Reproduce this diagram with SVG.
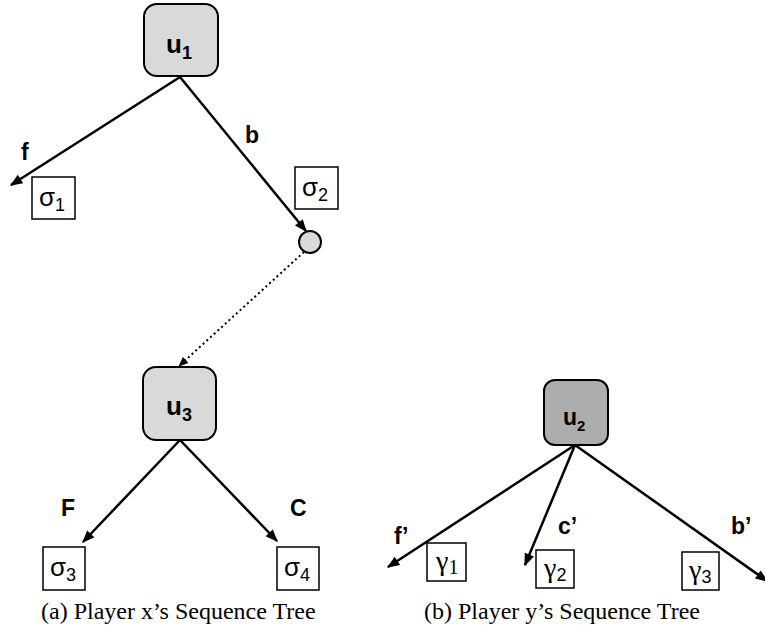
<svg xmlns="http://www.w3.org/2000/svg" width="765" height="639" viewBox="0 0 765 639">
  <style>
    .node { fill: #d9d9d9; stroke: #000; stroke-width: 2; }
    .node-dark { fill: #adadad; stroke: #000; stroke-width: 2; }
    .nlabel { font-family: "Liberation Sans", Arial, sans-serif; font-weight: bold; font-size: 26px; fill: #000; }
    .sub { font-size: 18px; }
    .edge { stroke: #000; stroke-width: 2.5; fill: none; }
    .dotted { stroke: #000; stroke-width: 2; stroke-dasharray: 2 3; fill: none; }
    .elabel { font-family: "Liberation Sans", Arial, sans-serif; font-weight: bold; font-size: 23px; fill: #000; }
    .seq { fill: #fff; stroke: #000; stroke-width: 1.5; }
    .sigma { font-family: "Liberation Sans", Arial, sans-serif; font-size: 26px; fill: #000; }
    .gamma { font-family: "Liberation Serif", "Times New Roman", serif; font-size: 28px; fill: #000; }
    .caption { font-family: "Liberation Serif", "Times New Roman", serif; font-size: 24px; fill: #000; }
  </style>
  <defs>
    <marker id="arrow" viewBox="0 0 10 10" refX="9" refY="5" markerWidth="5.5" markerHeight="5" markerUnits="strokeWidth" orient="auto">
      <path d="M0,1 L10,5 L0,9 z" fill="#000"/>
    </marker>
  </defs>

  <!-- connectors -->
  <g id="connectors">
    <line class="edge" x1="180" y1="77" x2="11" y2="185" marker-end="url(#arrow)"/>
    <line class="edge" x1="180" y1="77" x2="306" y2="231" marker-end="url(#arrow)"/>
    <line class="dotted" x1="304" y1="252" x2="179" y2="366" marker-end="url(#arrow)"/>
    <line class="edge" x1="180" y1="440" x2="83" y2="542" marker-end="url(#arrow)"/>
    <line class="edge" x1="180" y1="440" x2="277" y2="541" marker-end="url(#arrow)"/>
    <line class="edge" x1="575" y1="445" x2="388" y2="567" marker-end="url(#arrow)"/>
    <line class="edge" x1="575" y1="445" x2="525" y2="565" marker-end="url(#arrow)"/>
    <line class="edge" x1="575" y1="445" x2="767" y2="581" marker-end="url(#arrow)"/>
  </g>

  <!-- edge labels -->
  <g id="edge-labels">
    <text class="elabel" x="21" y="160">f</text>
    <text class="elabel" x="245" y="143">b</text>
    <text class="elabel" x="61" y="516">F</text>
    <text class="elabel" x="290" y="516">C</text>
    <text class="elabel" x="394" y="544">f’</text>
    <text class="elabel" x="558" y="534">c’</text>
    <text class="elabel" x="731" y="534">b’</text>
  </g>

  <!-- decision nodes -->
  <g id="u1">
    <rect class="node" x="144" y="4" width="74" height="72" rx="13"/>
    <text class="nlabel" x="166" y="53">u<tspan class="sub" dy="6">1</tspan></text>
  </g>
  <g id="u3">
    <rect class="node" x="143" y="367" width="73" height="73" rx="13"/>
    <text class="nlabel" x="166" y="415">u<tspan class="sub" dy="6">3</tspan></text>
  </g>
  <g id="u2">
    <rect class="node-dark" x="544" y="380" width="64" height="65" rx="11"/>
    <text class="nlabel" x="563" y="425" style="font-size:23px">u<tspan class="sub" dy="6" style="font-size:15px">2</tspan></text>
  </g>
  <g id="chance">
    <circle class="node" cx="310" cy="242" r="11" stroke-width="1.5"/>
  </g>

  <!-- sequence boxes -->
  <g id="sigma1">
    <rect class="seq" x="32" y="177" width="43" height="42"/>
    <text class="sigma" x="39" y="206">σ<tspan font-size="18" dy="5">1</tspan></text>
  </g>
  <g id="sigma2">
    <rect class="seq" x="295" y="167" width="43" height="42"/>
    <text class="sigma" x="302" y="196">σ<tspan font-size="18" dy="5">2</tspan></text>
  </g>
  <g id="sigma3">
    <rect class="seq" x="43" y="547" width="42" height="43"/>
    <text class="sigma" x="50" y="576">σ<tspan font-size="18" dy="5">3</tspan></text>
  </g>
  <g id="sigma4">
    <rect class="seq" x="277" y="547" width="42" height="43"/>
    <text class="sigma" x="284" y="576">σ<tspan font-size="18" dy="5">4</tspan></text>
  </g>
  <g id="gamma1">
    <rect class="seq" x="427" y="543" width="39" height="38"/>
    <text class="gamma" x="436" y="570">γ<tspan font-size="20" dy="4">1</tspan></text>
  </g>
  <g id="gamma2">
    <rect class="seq" x="536" y="550" width="38" height="38"/>
    <text class="gamma" x="544" y="577">γ<tspan font-family="Liberation Sans, Arial, sans-serif" font-size="18" dy="4">2</tspan></text>
  </g>
  <g id="gamma3">
    <rect class="seq" x="682" y="552" width="37" height="38"/>
    <text class="gamma" x="689" y="579">γ<tspan font-family="Liberation Sans, Arial, sans-serif" font-size="18" dy="4">3</tspan></text>
  </g>

  <!-- captions -->
  <g id="captions">
    <text class="caption" x="41" y="619">(a)  Player x’s Sequence Tree</text>
    <text class="caption" x="424" y="619">(b)  Player y’s Sequence Tree</text>
  </g>
</svg>
